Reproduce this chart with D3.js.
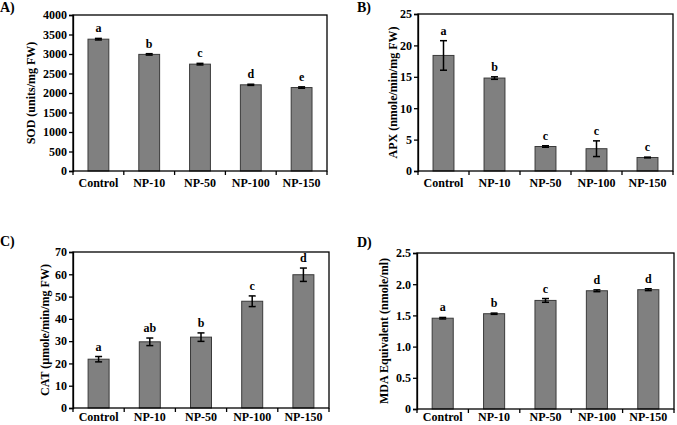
<!DOCTYPE html>
<html><head><meta charset="utf-8">
<script src="https://cdn.jsdelivr.net/npm/d3@7"></script>
<style>
body{margin:0;background:#fff;}
svg text{font-family:"Liberation Serif","Times New Roman",serif;font-weight:bold;fill:#000;}
</style></head>
<body>
<svg id="c" width="677" height="425"></svg>
<script>
const categories = ["Control","NP-10","NP-50","NP-100","NP-150"];

const sodValues = [3380, 2990, 2740, 2210, 2140];
const sodErrors = [20, 18, 20, 15, 18];
const sodLetters = ["a","b","c","d","e"];
const sodTicks = [0,500,1000,1500,2000,2500,3000,3500,4000];

const apxValues = [18.4, 14.8, 3.9, 3.55, 2.15];
const apxErrors = [2.35, 0.2, 0.12, 1.25, 0.06];
const apxLetters = ["a","b","c","c","c"];
const apxTicks = [0,5,10,15,20,25];

const catValues = [21.9, 29.7, 31.8, 47.9, 59.8];
const catErrors = [1.2, 1.7, 1.9, 2.4, 3.0];
const catLetters = ["a","ab","b","c","d"];
const catTicks = [0,10,20,30,40,50,60,70];

const mdaValues = [1.455, 1.527, 1.74, 1.895, 1.912];
const mdaErrors = [0.012, 0.01, 0.03, 0.015, 0.015];
const mdaLetters = ["a","b","c","d","d"];
const mdaTicks = [0,0.5,1.0,1.5,2.0,2.5];

const panels = [
  {tag:"A)", tagX:0, tagY:12, left:73, right:327, top:15, bottom:171, labX:31, catDy:16,
   label:"SOD (units/mg FW)", values:sodValues, errors:sodErrors, letters:sodLetters, ticks:sodTicks, fmt:d=>String(d)},
  {tag:"B)", tagX:357, tagY:12, left:418, right:673, top:14, bottom:171, labX:393, catDy:16,
   label:"APX (nmole/min/mg FW)", values:apxValues, errors:apxErrors, letters:apxLetters, ticks:apxTicks, fmt:d=>String(d)},
  {tag:"C)", tagX:0, tagY:246, left:73, right:329, top:252, bottom:408, labX:45, catDy:13,
   label:"CAT (µmole/min/mg FW)", values:catValues, errors:catErrors, letters:catLetters, ticks:catTicks, fmt:d=>String(d)},
  {tag:"D)", tagX:357, tagY:247, left:417, right:674, top:253, bottom:409, labX:384, catDy:12,
   label:"MDA Equivalent (nmole/ml)", values:mdaValues, errors:mdaErrors, letters:mdaLetters, ticks:mdaTicks, fmt:d=>d===0?"0":d.toFixed(1)}
];

const svg = d3.select("#c");

panels.forEach(p => {
  const g = svg.append("g");
  const x = d3.scaleBand().domain(categories).range([p.left, p.right]).padding(0);
  const y = d3.scaleLinear().domain([0, p.ticks[p.ticks.length-1]]).range([p.bottom, p.top]);
  const bw = x.bandwidth()*0.41;

  g.append("text").attr("x", p.tagX).attr("y", p.tagY).attr("font-size", 14).text(p.tag);

  g.selectAll("rect.bar").data(categories).join("rect")
    .attr("x", d => x(d) + x.bandwidth()/2 - bw/2)
    .attr("y", (d,i) => y(p.values[i]))
    .attr("width", bw)
    .attr("height", (d,i) => y(0) - y(p.values[i]))
    .attr("fill", "#808080").attr("stroke", "#3a3a3a").attr("stroke-width", 1);

  categories.forEach((c,i) => {
    const cx = x(c) + x.bandwidth()/2;
    const yt = y(p.values[i] + p.errors[i]);
    const yb = y(p.values[i] - p.errors[i]);
    g.append("line").attr("x1",cx).attr("x2",cx).attr("y1",yt).attr("y2",yb).attr("stroke","#000").attr("stroke-width",1.5);
    [yt,yb].forEach(yy => g.append("line").attr("x1",cx-3.5).attr("x2",cx+3.5).attr("y1",yy).attr("y2",yy).attr("stroke","#000").attr("stroke-width",1.5));
    g.append("text").attr("x", cx).attr("y", yt - 6).attr("text-anchor","middle").attr("font-size",12).text(p.letters[i]);
  });

  g.append("rect").attr("x",p.left).attr("y",p.top).attr("width",p.right-p.left).attr("height",p.bottom-p.top)
    .attr("fill","none").attr("stroke","#000").attr("stroke-width",1.3);

  const ya = g.append("g").attr("transform",`translate(${p.left},0)`)
    .call(d3.axisLeft(y).tickValues(p.ticks).tickFormat(p.fmt).tickSize(4).tickPadding(2));
  ya.select(".domain").attr("stroke","#000").attr("stroke-width",1.3);
  ya.selectAll(".tick line").attr("stroke","#000").attr("stroke-width",1.3);
  ya.selectAll(".tick text").attr("font-size",12).attr("font-family","Liberation Serif, serif").attr("font-weight","bold").attr("fill","#000");

  const bounds = categories.map(c => x(c)).concat([p.right]);
  g.selectAll("line.xt").data(bounds).join("line")
    .attr("x1", d=>d).attr("x2", d=>d).attr("y1", p.bottom).attr("y2", p.bottom+4)
    .attr("stroke","#000").attr("stroke-width",1.3);
  g.selectAll("text.xl").data(categories).join("text")
    .attr("x", d => x(d) + x.bandwidth()/2)
    .attr("y", p.bottom + p.catDy)
    .attr("text-anchor","middle").attr("font-size",12).text(d=>d);

  g.append("text").attr("transform",`translate(${p.labX},${(p.top+p.bottom)/2}) rotate(-90)`)
    .attr("text-anchor","middle").attr("dominant-baseline","central").attr("font-size",12).text(p.label);
});
</script>
</body></html>
